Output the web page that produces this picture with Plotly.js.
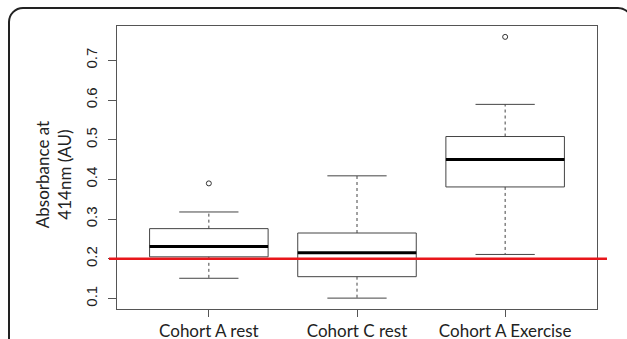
<!DOCTYPE html>
<html>
<head>
<meta charset="utf-8">
<script src="https://cdn.plot.ly/plotly-3.0.1.min.js"></script>
<style>
  html, body { margin: 0; padding: 0; background: #fff; overflow: hidden; }
  #wrap { position: relative; width: 627px; height: 339px; overflow: hidden; }
  #chart { position: absolute; left: 0; top: 0; width: 627px; height: 339px; }
  #frame { position: absolute; left: 8px; top: 7px; width: 625px; height: 420px;
           box-sizing: border-box; border: 2px solid #222; border-radius: 15px;
           pointer-events: none; }
</style>
</head>
<body>
<div id="wrap">
  <div id="chart"></div>
  <div id="frame"></div>
</div>
<script>
// ---- data ----
const categories   = ["Cohort A rest", "Cohort C rest", "Cohort A Exercise"];
const lowerWhisker = [0.151, 0.101, 0.211];
const q1           = [0.205, 0.155, 0.381];
const median       = [0.231, 0.215, 0.450];
const q3           = [0.276, 0.265, 0.508];
const upperWhisker = [0.318, 0.409, 0.589];
const outlierGroup = [1, 3];
const outlierValue = [0.390, 0.759];
const threshold    = 0.2;
const yTicks       = [0.1, 0.2, 0.3, 0.4, 0.5, 0.6, 0.7];

// ---- build marks ----
const pos = categories.map((c, i) => i + 1);
const halfBox = 0.4, halfCap = 0.2;
const boxX = [], boxY = [], medX = [], medY = [], whX = [], whY = [], capX = [], capY = [];
pos.forEach((p, i) => {
  boxX.push(p - halfBox, p + halfBox, p + halfBox, p - halfBox, p - halfBox, null);
  boxY.push(q1[i], q1[i], q3[i], q3[i], q1[i], null);
  medX.push(p - halfBox, p + halfBox, null);
  medY.push(median[i], median[i], null);
  whX.push(p, p, null, p, p, null);
  whY.push(q3[i], upperWhisker[i], null, q1[i], lowerWhisker[i], null);
  capX.push(p - halfCap, p + halfCap, null, p - halfCap, p + halfCap, null);
  capY.push(upperWhisker[i], upperWhisker[i], null, lowerWhisker[i], lowerWhisker[i], null);
});

const traces = [
  {x: whX, y: whY, mode: "lines", line: {color: "#444", width: 1, dash: "3px,3px"}, hoverinfo: "skip"},
  {x: capX, y: capY, mode: "lines", line: {color: "#444", width: 1}, hoverinfo: "skip"},
  {x: boxX, y: boxY, mode: "lines", line: {color: "#444", width: 1}, hoverinfo: "skip"},
  {x: medX, y: medY, mode: "lines", line: {color: "#000", width: 3}, hoverinfo: "skip"},
  {x: outlierGroup, y: outlierValue, mode: "markers",
   marker: {symbol: "circle-open", size: 5, color: "#333", line: {width: 1}}, hoverinfo: "skip"}
];

const tickFont = {family: "Liberation Sans, Arial, sans-serif", size: 15, color: "#222"};
const labelFont = {family: "Lato, sans-serif", size: 17, color: "#222"};

const layout = {
  width: 627, height: 339,
  margin: {l: 117, r: 30, t: 26, b: 30, pad: 0},
  paper_bgcolor: "#fff", plot_bgcolor: "#fff",
  showlegend: false,
  xaxis: {
    range: [0.38, 3.62], tickvals: pos, ticktext: categories,
    showgrid: false, zeroline: false,
    showline: true, mirror: true, linecolor: "#555", linewidth: 1,
    ticks: "outside", ticklen: 7, tickcolor: "#555", tickwidth: 1,
    tickfont: labelFont, ticklabelstandoff: 0, fixedrange: true
  },
  yaxis: {
    range: [0.0736, 0.7864], tickvals: yTicks, ticktext: yTicks.map(v => v.toFixed(1)),
    showgrid: false, zeroline: false,
    showline: true, mirror: true, linecolor: "#555", linewidth: 1,
    ticks: "outside", ticklen: 8, tickcolor: "#555", tickwidth: 1,
    tickangle: -90, tickfont: tickFont, ticklabelstandoff: 5, fixedrange: true
  },
  shapes: [{
    type: "line", xref: "paper", yref: "y",
    x0: -0.0167, x1: 1.0208, y0: threshold, y1: threshold,
    line: {color: "#e8161b", width: 2.5}, layer: "above"
  }],
  annotations: [{
    xref: "paper", yref: "paper", x: -0.132, y: 0.475,
    xanchor: "center", yanchor: "middle", textangle: -90,
    text: "Absorbance at<br>414nm (AU)", showarrow: false,
    font: labelFont
  }]
};

Plotly.newPlot("chart", traces, layout, {displayModeBar: false, staticPlot: true});
</script>
</body>
</html>
